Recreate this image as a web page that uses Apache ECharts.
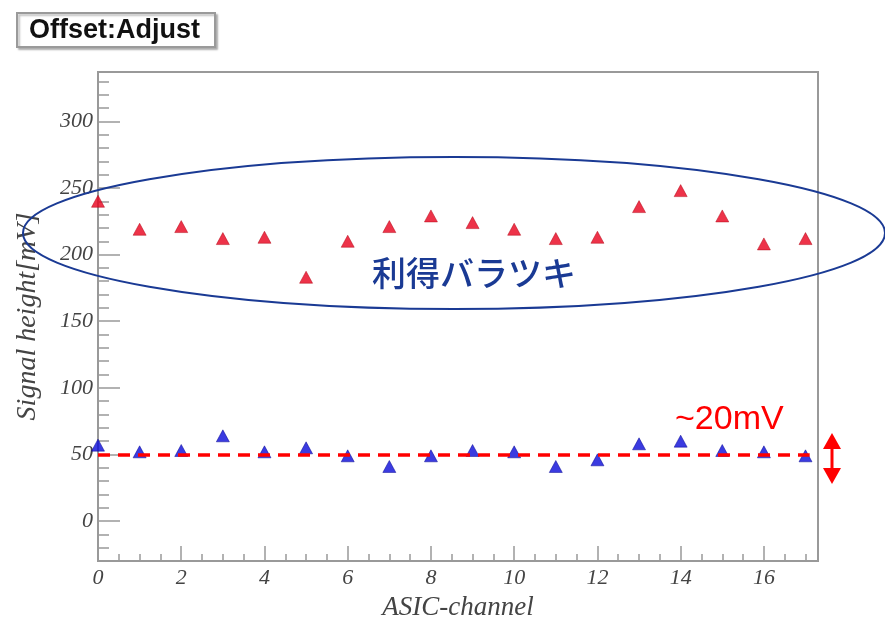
<!DOCTYPE html>
<html>
<head>
<meta charset="utf-8">
<script src="https://cdn.jsdelivr.net/npm/echarts@6/dist/echarts.min.js"></script>
<style>html,body{margin:0;padding:0;background:#fff;}#c{width:885px;height:626px;}</style>
</head>
<body>
<div id="c"></div>
<script>
// ---- data ----
const channels = [0,1,2,3,4,5,6,7,8,9,10,11,12,13,14,15,16,17];
const gainValues = [240,219,221,212,213,183,210,221,229,224,219,212,213,236,248,229,208,212];
const offsetValues = [57,52,53,64,52,55,49,41,49,53,52,41,46,58,60,53,52,49];
const yTickValues = [0,50,100,150,200,250,300];
const xTickValues = [0,2,4,6,8,10,12,14,16];
const referenceLevel = 50;
const titleText = 'Offset:Adjust';
const yTitle = 'Signal height[mV]';
const xTitle = 'ASIC-channel';
const noteGain = '利得バラツキ';
const noteOffset = '~20mV';

const serif = '"Liberation Serif","DejaVu Serif",serif';
const axisGray = '#999';
const labelGray = '#444';

const chart = echarts.init(document.getElementById('c'), null, {renderer:'canvas'});
chart.setOption({
  backgroundColor:'#fff',
  animation:false,
  title:{
    text:titleText, left:17, top:13,
    padding:[4,15,3,12],
    borderColor:'#9a9a9a', borderWidth:2,
    shadowColor:'rgba(0,0,0,0.25)', shadowOffsetX:2, shadowOffsetY:2, shadowBlur:2,
    backgroundColor:'#fff',
    textStyle:{fontFamily:'"Liberation Sans",Arial,sans-serif', fontWeight:'bold', fontSize:27, color:'#111'}
  },
  grid:{left:98, top:72, right:67, bottom:63, show:true, borderColor:axisGray, borderWidth:2, backgroundColor:'transparent'},
  xAxis:[{
    type:'value', min:0, max:17.3, interval:2,
    name:xTitle, nameLocation:'middle', nameGap:30,
    nameTextStyle:{fontFamily:serif, fontStyle:'italic', fontSize:27, color:labelGray},
    axisLine:{show:true, onZero:false, lineStyle:{color:axisGray, width:2}},
    axisTick:{show:true, inside:true, length:15, customValues:xTickValues, lineStyle:{color:axisGray, width:1.5}},
    axisLabel:{customValues:xTickValues, margin:6, fontFamily:serif, fontStyle:'italic', fontSize:22, color:labelGray},
    splitLine:{show:false}
  },{
    type:'value', min:0, max:17.3, interval:0.5, position:'bottom', offset:0,
    axisLine:{show:false, onZero:false}, axisLabel:{show:false}, splitLine:{show:false},
    axisTick:{show:true, inside:true, length:7, lineStyle:{color:axisGray, width:1.5}}
  }],
  yAxis:[{
    type:'value', min:-30, max:337,
    name:yTitle, nameLocation:'middle', nameGap:56, nameRotate:90,
    nameTextStyle:{fontFamily:serif, fontStyle:'italic', fontSize:28, color:labelGray},
    axisLine:{show:true, onZero:false, lineStyle:{color:axisGray, width:2}},
    axisTick:{show:true, inside:true, length:22, customValues:yTickValues, lineStyle:{color:axisGray, width:1.5}},
    axisLabel:{customValues:yTickValues, margin:5, fontFamily:serif, fontStyle:'italic', fontSize:22, color:labelGray},
    splitLine:{show:false}
  },{
    type:'value', min:-30, max:337, interval:10, position:'left', offset:0,
    axisLine:{show:false, onZero:false}, axisLabel:{show:false}, splitLine:{show:false},
    axisTick:{show:true, inside:true, length:11, lineStyle:{color:axisGray, width:1.5}}
  }],
  series:[{
    type:'scatter', name:'gain', xAxisIndex:0, yAxisIndex:0,
    data:channels.map((c,i)=>[c,gainValues[i]]),
    symbol:'triangle', symbolSize:[13,12],
    itemStyle:{color:'#e8001c', borderColor:'#b00010', borderWidth:0.6},
    z:3
  },{
    type:'scatter', name:'offset', xAxisIndex:0, yAxisIndex:0,
    data:channels.map((c,i)=>[c,offsetValues[i]]),
    symbol:'triangle', symbolSize:[13,12],
    itemStyle:{color:'#0a0ad8', borderColor:'#000090', borderWidth:0.6},
    z:3,
    markLine:{
      silent:true, symbol:['none','none'], label:{show:false},
      lineStyle:{color:'#ff0000', type:[12,8], width:3.5},
      data:[[{coord:[0,referenceLevel]},{coord:[17.1,referenceLevel]}]]
    }
  }],
  graphic:[
    {type:'ellipse', z:10, shape:{cx:454, cy:233, rx:431, ry:76},
     style:{fill:'none', stroke:'#1a3a94', lineWidth:2}},
    {type:'text', z:10, x:372, y:256,
     style:{text:noteGain, font:'500 34px "Noto Sans CJK JP"', fill:'#1a3a94'}},
    {type:'text', z:10, x:675, y:403,
     style:{text:noteOffset, font:'34px "Liberation Sans", Arial, sans-serif', fill:'#ff0000'}},
    {type:'line', z:10, shape:{x1:832, y1:445, x2:832, y2:471},
     style:{stroke:'#ff0000', lineWidth:3}},
    {type:'polygon', z:10, shape:{points:[[832,433],[823,449],[841,449]]}, style:{fill:'#ff0000'}},
    {type:'polygon', z:10, shape:{points:[[832,484],[823,468],[841,468]]}, style:{fill:'#ff0000'}}
  ]
});
</script>
</body>
</html>
